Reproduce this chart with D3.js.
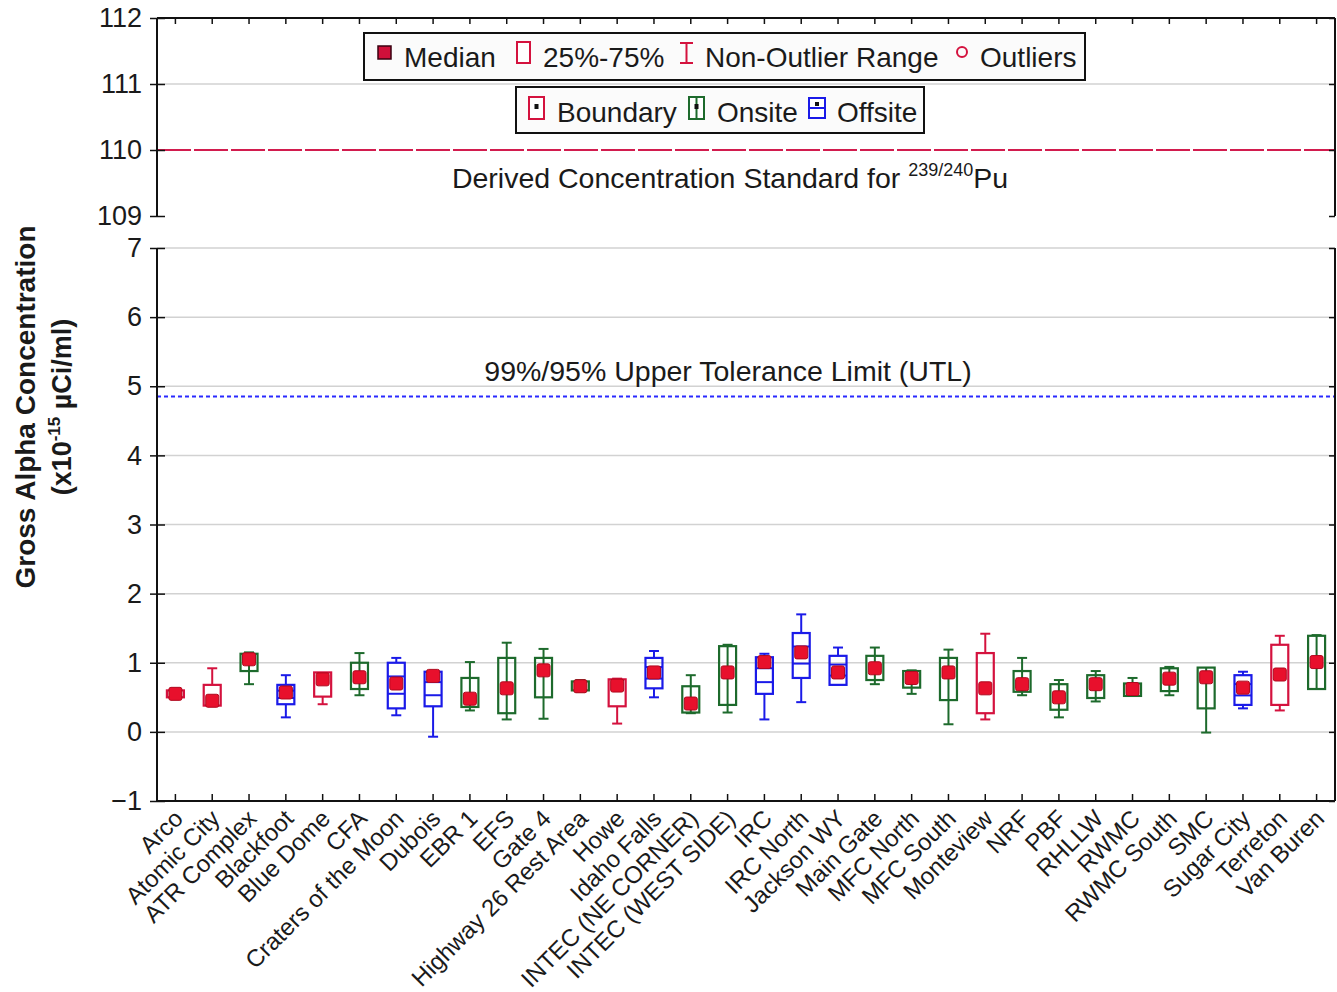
<!DOCTYPE html>
<html>
<head>
<meta charset="utf-8">
<script src="https://cdn.jsdelivr.net/npm/d3@7"></script>
<style>
  body { margin: 0; background: #fff; }
  svg { display: block; }
  text { font-family: "Liberation Sans", Arial, sans-serif; fill: #1a1a1a; }
</style>
</head>
<body>
<svg id="chart" width="1337" height="992"></svg>
<script>
// Sampling locations
const categories = [
  "Arco", "Atomic City", "ATR Complex", "Blackfoot", "Blue Dome", "CFA",
  "Craters of the Moon", "Dubois", "EBR 1", "EFS", "Gate 4",
  "Highway 26 Rest Area", "Howe", "Idaho Falls", "INTEC (NE CORNER)",
  "INTEC (WEST SIDE)", "IRC", "IRC North", "Jackson WY", "Main Gate",
  "MFC North", "MFC South", "Monteview", "NRF", "PBF", "RHLLW", "RWMC",
  "RWMC South", "SMC", "Sugar City", "Terreton", "Van Buren"
];
// Location type for each station
const groups = [
  "Boundary", "Boundary", "Onsite", "Offsite", "Boundary", "Onsite",
  "Offsite", "Offsite", "Onsite", "Onsite", "Onsite",
  "Onsite", "Boundary", "Offsite", "Onsite",
  "Onsite", "Offsite", "Offsite", "Offsite", "Onsite",
  "Onsite", "Onsite", "Boundary", "Onsite", "Onsite", "Onsite", "Onsite",
  "Onsite", "Onsite", "Offsite", "Boundary", "Onsite"
];
// Box statistics (x10^-15 uCi/ml)
const whiskerLow  = [0.50, 0.38, 0.69, 0.21, 0.40, 0.53, 0.24, -0.07, 0.31, 0.18, 0.19, 0.58, 0.12, 0.50, 0.27, 0.28, 0.18, 0.43, 0.68, 0.69, 0.55, 0.11, 0.18, 0.53, 0.21, 0.44, 0.52, 0.53, -0.01, 0.34, 0.31, 0.62];
const q1          = [0.50, 0.38, 0.88, 0.40, 0.51, 0.62, 0.34, 0.37, 0.36, 0.27, 0.50, 0.60, 0.37, 0.63, 0.28, 0.39, 0.55, 0.78, 0.68, 0.75, 0.64, 0.46, 0.27, 0.58, 0.32, 0.49, 0.52, 0.59, 0.34, 0.39, 0.39, 0.62];
const median      = [0.55, 0.45, 1.05, 0.57, 0.76, 0.79, 0.70, 0.81, 0.48, 0.63, 0.89, 0.66, 0.67, 0.86, 0.41, 0.86, 1.01, 1.15, 0.86, 0.92, 0.78, 0.86, 0.63, 0.69, 0.50, 0.69, 0.62, 0.77, 0.79, 0.64, 0.83, 1.01];
const q3          = [0.60, 0.68, 1.13, 0.68, 0.86, 1.00, 1.00, 0.87, 0.78, 1.07, 1.07, 0.73, 0.76, 1.07, 0.66, 1.24, 1.08, 1.43, 1.10, 1.10, 0.88, 1.07, 1.14, 0.88, 0.69, 0.82, 0.70, 0.92, 0.93, 0.82, 1.26, 1.39];
const whiskerHigh = [0.62, 0.92, 1.15, 0.82, 0.86, 1.14, 1.07, 0.88, 1.01, 1.29, 1.20, 0.75, 0.77, 1.17, 0.82, 1.26, 1.13, 1.70, 1.22, 1.22, 0.89, 1.19, 1.42, 1.07, 0.75, 0.88, 0.78, 0.94, 0.93, 0.87, 1.39, 1.40];

const upperTicks = [109, 110, 111, 112];
const lowerTicks = [-1, 0, 1, 2, 3, 4, 5, 6, 7];
const dcsValue = 110;   // Derived Concentration Standard for 239/240Pu
const utlValue = 4.85;  // 99%/95% upper tolerance limit

const colors = { Boundary: "#d4123e", Onsite: "#1d6a2c", Offsite: "#1a1ae8" };
const medianFill = "#e8102c";

const svg = d3.select("#chart");
const left = 157, right = 1335;

const x = d3.scaleBand().domain(categories).range([left, right]);
const yU = d3.scaleLinear().domain([109, 112]).range([216, 18]);
const yL = d3.scaleLinear().domain([-1, 7]).range([801, 248]);
const cx = c => x(c) + x.bandwidth() / 2;

// gridlines
svg.append("g").selectAll("line").data(lowerTicks.filter(t => t > -1)).join("line")
  .attr("x1", left).attr("x2", right).attr("y1", d => yL(d)).attr("y2", d => yL(d))
  .attr("stroke", "#d2d2d2").attr("stroke-width", 1.5);
svg.append("g").selectAll("line").data([111]).join("line")
  .attr("x1", left).attr("x2", right).attr("y1", d => yU(d)).attr("y2", d => yU(d))
  .attr("stroke", "#d2d2d2").attr("stroke-width", 1.5);

// reference lines
svg.append("line").attr("x1", left).attr("x2", right)
  .attr("y1", yU(dcsValue)).attr("y2", yU(dcsValue))
  .attr("stroke", "#d21c4e").attr("stroke-width", 2.2).attr("stroke-dasharray", "34,3");
svg.append("line").attr("x1", left).attr("x2", right)
  .attr("y1", yL(utlValue)).attr("y2", yL(utlValue))
  .attr("stroke", "#2a2aff").attr("stroke-width", 2).attr("stroke-dasharray", "4,3");

// axes
const fmt = d3.format("d");
const gUL = svg.append("g").attr("transform", `translate(${left},0)`)
  .call(d3.axisLeft(yU).tickValues(upperTicks).tickFormat(fmt).tickSize(7).tickPadding(8));
const gLL = svg.append("g").attr("transform", `translate(${left},0)`)
  .call(d3.axisLeft(yL).tickValues(lowerTicks).tickFormat(fmt).tickSize(7).tickPadding(8));
const gUR = svg.append("g").attr("transform", `translate(${right},0)`)
  .call(d3.axisLeft(yU).tickValues(upperTicks).tickFormat("").tickSize(6));
const gLR = svg.append("g").attr("transform", `translate(${right},0)`)
  .call(d3.axisLeft(yL).tickValues(lowerTicks).tickFormat("").tickSize(6));
const gTop = svg.append("g").attr("transform", `translate(0,${yU(112)})`)
  .call(d3.axisBottom(x).tickFormat("").tickSize(6));
const gBot = svg.append("g").attr("transform", `translate(0,${yL(-1)})`)
  .call(d3.axisTop(x).tickFormat("").tickSize(7));

[gUL, gLL, gUR, gLR, gTop, gBot].forEach(g => {
  g.select(".domain").attr("stroke", "#111").attr("stroke-width", 2);
  g.selectAll(".tick line").attr("stroke", "#111").attr("stroke-width", 1.5);
  g.selectAll(".tick text").style("font-size", "27px").attr("fill", "#1a1a1a");
});
// left ticks cross the axis slightly
[gUL, gLL].forEach(g => g.selectAll(".tick line").attr("x1", 8));
// plain axis lines without end caps
[gUL, gLL, gUR, gLR].forEach(g => g.select(".domain")
  .attr("d", function () { const s = g === gUL || g === gUR ? yU : yL; return `M0,${s.range()[0]}V${s.range()[1]}`; }));
[gTop, gBot].forEach(g => g.select(".domain").attr("d", `M${left},0H${right}`));

// x category labels
svg.append("g").selectAll("text").data(categories).join("text")
  .attr("transform", d => `translate(${cx(d) + 9},${yL(-1) + 19}) rotate(-45)`)
  .attr("text-anchor", "end")
  .style("font-size", "24px")
  .text(d => d);

// box plots
const boxW = 17, capW = 10, mk = 13;
const boxes = svg.append("g").selectAll("g").data(categories).join("g");
boxes.each(function (c, i) {
  const g = d3.select(this);
  const col = colors[groups[i]];
  const xc = cx(c);
  const yTop = yL(q3[i]), yBot = yL(q1[i]);
  const line = (x1, y1, x2, y2) => g.append("line")
    .attr("x1", x1).attr("y1", y1).attr("x2", x2).attr("y2", y2)
    .attr("stroke", col).attr("stroke-width", 2);
  if (groups[i] === "Onsite") {
    line(xc, yL(whiskerLow[i]), xc, yL(whiskerHigh[i]));
  } else {
    line(xc, yL(whiskerHigh[i]), xc, yTop);
    line(xc, yBot, xc, yL(whiskerLow[i]));
  }
  if (whiskerHigh[i] > q3[i]) line(xc - capW / 2, yL(whiskerHigh[i]), xc + capW / 2, yL(whiskerHigh[i]));
  if (whiskerLow[i] < q1[i]) line(xc - capW / 2, yL(whiskerLow[i]), xc + capW / 2, yL(whiskerLow[i]));
  g.append("rect").attr("x", xc - boxW / 2).attr("y", yTop)
    .attr("width", boxW).attr("height", yBot - yTop)
    .attr("fill", "none").attr("stroke", col).attr("stroke-width", 2.2);
  if (groups[i] === "Offsite") {
    [0.3, 0.68].forEach(f => line(xc - boxW / 2, yTop + f * (yBot - yTop), xc + boxW / 2, yTop + f * (yBot - yTop)));
  }
  g.append("rect").attr("x", xc - mk / 2).attr("y", yL(median[i]) - mk / 2)
    .attr("width", mk).attr("height", mk).attr("rx", 2)
    .attr("fill", medianFill).attr("stroke", "#b0081e").attr("stroke-width", 1);
});

// annotations
const dcs = svg.append("text").attr("x", 730).attr("y", 188)
  .attr("text-anchor", "middle").style("font-size", "28.5px");
dcs.append("tspan").text("Derived Concentration Standard for ");
dcs.append("tspan").attr("dy", -12).style("font-size", "18px").text("239/240");
dcs.append("tspan").attr("dy", 12).text("Pu");

svg.append("text").attr("x", 728).attr("y", 381)
  .attr("text-anchor", "middle").style("font-size", "28.5px")
  .text("99%/95% Upper Tolerance Limit (UTL)");

// y axis title
const yt = svg.append("g").attr("transform", "translate(44,407) rotate(-90)");
yt.append("text").attr("text-anchor", "middle").attr("y", -9)
  .style("font-size", "28px").style("font-weight", "bold")
  .text("Gross Alpha Concentration");
const yt2 = yt.append("text").attr("text-anchor", "middle").attr("y", 27)
  .style("font-size", "27px").style("font-weight", "bold");
yt2.append("tspan").text("(x10");
yt2.append("tspan").attr("dy", -11).style("font-size", "17px").text("-15");
yt2.append("tspan").attr("dy", 11).text(" \u00b5Ci/ml)");

// legends
const red = colors.Boundary, green = colors.Onsite, blue = colors.Offsite;
const lg = svg.append("g");
lg.append("rect").attr("x", 364).attr("y", 33).attr("width", 721).attr("height", 47)
  .attr("fill", "#fbfbfb").attr("stroke", "#111").attr("stroke-width", 2);
lg.append("rect").attr("x", 378).attr("y", 46).attr("width", 13).attr("height", 13)
  .attr("fill", "#d0103a").attr("stroke", "#3a0010").attr("stroke-width", 1.5);
lg.append("rect").attr("x", 517).attr("y", 42).attr("width", 13).attr("height", 21)
  .attr("fill", "#fff").attr("stroke", red).attr("stroke-width", 2);
lg.append("path").attr("d", "M680,43H693M686.5,43V63M680,63H693")
  .attr("fill", "none").attr("stroke", red).attr("stroke-width", 2);
lg.append("circle").attr("cx", 962).attr("cy", 52).attr("r", 5)
  .attr("fill", "none").attr("stroke", red).attr("stroke-width", 2);
[["Median", 404], ["25%-75%", 543], ["Non-Outlier Range", 705], ["Outliers", 980]].forEach(([t, px]) =>
  lg.append("text").attr("x", px).attr("y", 67).style("font-size", "28px").text(t));

lg.append("rect").attr("x", 516).attr("y", 87).attr("width", 408).attr("height", 46)
  .attr("fill", "#fbfbfb").attr("stroke", "#111").attr("stroke-width", 2);
lg.append("rect").attr("x", 529).attr("y", 97).attr("width", 15).attr("height", 22)
  .attr("fill", "#fff").attr("stroke", red).attr("stroke-width", 2);
lg.append("rect").attr("x", 534.5).attr("y", 104).attr("width", 4).attr("height", 5).attr("fill", "#111");
lg.append("rect").attr("x", 689).attr("y", 97).attr("width", 15).attr("height", 22)
  .attr("fill", "#fff").attr("stroke", green).attr("stroke-width", 2);
lg.append("line").attr("x1", 696.5).attr("x2", 696.5).attr("y1", 97).attr("y2", 119)
  .attr("stroke", green).attr("stroke-width", 2);
lg.append("rect").attr("x", 694.5).attr("y", 104).attr("width", 4).attr("height", 5).attr("fill", "#111");
lg.append("rect").attr("x", 809).attr("y", 98).attr("width", 16).attr("height", 20)
  .attr("fill", "#fff").attr("stroke", blue).attr("stroke-width", 2);
lg.append("line").attr("x1", 809).attr("x2", 825).attr("y1", 108).attr("y2", 108)
  .attr("stroke", blue).attr("stroke-width", 2);
lg.append("rect").attr("x", 815).attr("y", 102).attr("width", 4).attr("height", 4).attr("fill", "#111");
[["Boundary", 557], ["Onsite", 717], ["Offsite", 837]].forEach(([t, px]) =>
  lg.append("text").attr("x", px).attr("y", 122).style("font-size", "28px").text(t));
</script>
</body>
</html>
